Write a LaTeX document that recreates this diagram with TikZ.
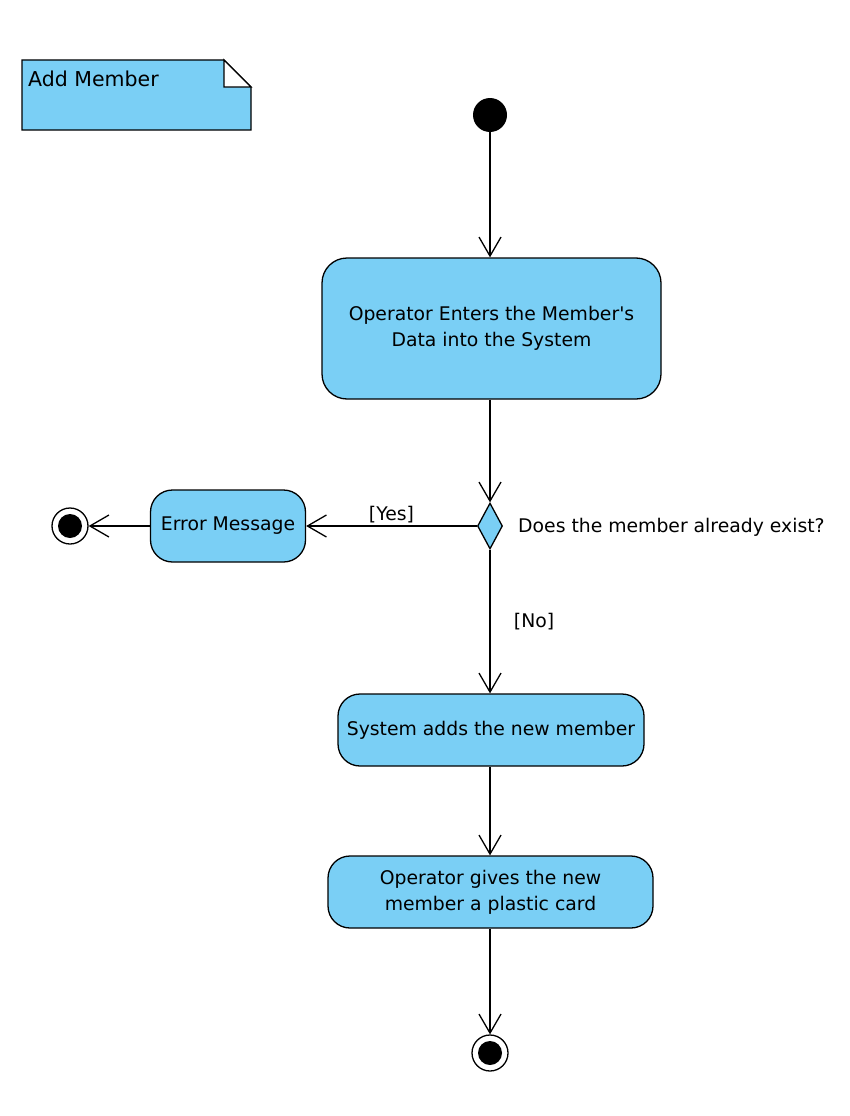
\documentclass[tikz,border=0pt]{standalone}
\usepackage{fontspec}
\setmainfont{DejaVu Sans}
\usetikzlibrary{arrows.meta,shapes.geometric}
\definecolor{actfill}{RGB}{122,207,245}
\begin{document}
\begin{tikzpicture}[x=1pt,y=-1pt,
  txt/.style={font=\fontsize{18.8}{26}\selectfont},
  act/.style={draw=black, fill=actfill, line width=1.3pt, rounded corners=22pt,
    align=center, txt, inner sep=0pt},
  flow/.style={draw, line width=1.3pt,
    -{Straight Barb[length=19pt,width=22pt,line width=1.3pt]}},
  endring/.style={circle, draw, line width=1.3pt, minimum size=36pt, inner sep=0pt, fill=white},
]
\useasboundingbox (0,0) rectangle (850,1116);
% note
\filldraw[fill=actfill, draw=black, line width=1.3pt] (22,60) -- (224,60) -- (251,87) -- (251,130) -- (22,130) -- cycle;
\filldraw[fill=white, draw=black, line width=1.3pt] (224,60) -- (224,87) -- (251,87) -- cycle;
\node[font=\fontsize{20.5}{26}\selectfont, anchor=west, inner sep=0pt] (title) at (28,79) {Add Member};
% nodes
\node[circle, fill=black, minimum size=34pt, inner sep=0pt] (start) at (490,115) {};
\node[act, minimum width=339pt, minimum height=141pt, rounded corners=25pt] (act1) at (491.5,328.5) {Operator Enters the Member\textquotesingle s\\Data into the System};
\node[diamond, draw, fill=actfill, line width=1.3pt, minimum width=25pt, minimum height=46pt, inner sep=0pt] (dec) at (490,526) {};
\node[txt, anchor=west, inner sep=0pt] (q) at (518,527) {Does the member already exist?};
\node[act, minimum width=155pt, minimum height=72pt] (err) at (228,526) {Error Message};
\node[endring] (end1) at (70,526) {};
\fill (end1.center) circle (12);
\node[act, minimum width=306pt, minimum height=72pt] (act3) at (491,730) {System adds the new member};
\node[act, minimum width=325pt, minimum height=72pt] (act4) at (490.5,892) {Operator gives the new\\member a plastic card};
\node[endring] (end2) at (490,1053) {};
\fill (end2.center) circle (12);
% edges
\draw[flow] (start) -- (act1.north -| start);
\draw[flow] (act1.south -| dec) -- (dec.north);
\draw[flow] (dec.west) -- node[txt, above, inner sep=2pt] (yes) {[Yes]} (err.east);
\draw[flow] (err.west) -- (end1.east);
\draw[flow] (dec.south) -- node[txt, anchor=west, xshift=20pt] (no) {[No]} (act3.north -| dec);
\draw[flow] (act3.south -| dec) -- (act4.north -| dec);
\draw[flow] (act4.south -| dec) -- (end2.north);
\end{tikzpicture}
\end{document}
